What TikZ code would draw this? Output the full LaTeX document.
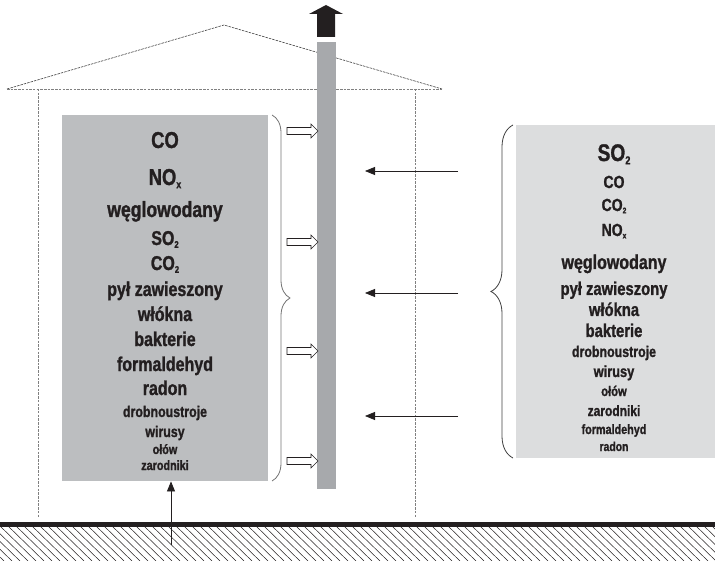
\documentclass[tikz,border=0pt]{standalone}
\usepackage{fontspec}
\setmainfont{Liberation Sans}[FakeStretch=0.8, BoldFeatures={FakeBold=1.2}]
\usepackage{graphicx}
\usetikzlibrary{arrows.meta,decorations.pathreplacing}
\definecolor{boxL}{HTML}{BCBEC0}
\definecolor{boxR}{HTML}{DCDDDE}
\definecolor{chim}{HTML}{A7A9AC}
\definecolor{ink}{HTML}{231F20}
\newcommand\sbs[1]{\raisebox{-0.14em}{\scalebox{0.48}{#1}}}
\tikzset{
  fs/.style={anchor=base, inner sep=0pt, text=ink, font=\fontsize{#1}{#1}\selectfont\bfseries},
  wall/.style={draw=gray, line width=0.6pt, dash pattern=on 2.5pt off 1.2pt},
  roofline/.style={draw=black!75, line width=0.6pt, dash pattern=on 2.5pt off 1pt},
  hollow/.style={draw=ink, fill=white, line width=0.6pt},
  inarrow/.style={draw=ink, line width=0.8pt, -{Triangle[length=10pt,width=8pt]}},
  bracestyle/.style={draw=#1, line width=0.8pt, decorate},
}
\begin{document}
\begin{tikzpicture}[x=1pt,y=-1pt]
\useasboundingbox (0,0) rectangle (715,561);
% house
\coordinate (eaveL) at (7,89);
\coordinate (apex) at (224,25);
\coordinate (eaveR) at (442,89);
\draw[roofline] (eaveL) -- (apex) -- (eaveR);
\draw[wall] (eaveL) -- (eaveR);
\coordinate (wL1) at (38,89); \coordinate (wL2) at (38,518);
\coordinate (wR1) at (415,89); \coordinate (wR2) at (415,518);
\draw[wall] (wL1) -- (wL2);
\draw[wall] (wR1) -- (wR2);
% ground
\begin{scope}
  \clip (0,526) rectangle (715,561);
  \foreach \i in {-6,...,92} {
    \draw[ink, line width=0.5pt] (\i*8,526) -- (\i*8+36,561);
  }
\end{scope}
\coordinate (gL) at (0,524); \coordinate (gR) at (715,524);
\draw[ink, line width=5pt] (gL) -- (gR);
% chimney
\node[fill=chim, inner sep=0pt, minimum width=18.5pt, minimum height=447pt, anchor=north] (chimney) at (326.25,42) {};
\fill[ink] (317,37) -- (317,14) -- (309,14) -- (326,5) -- (343,14) -- (335,14) -- (335,37) -- cycle;
% left box
\node[fill=boxL, inner sep=0pt, minimum width=206pt, minimum height=366pt, anchor=north west] (boxl) at (62,115) {};
\draw[bracestyle=black!55, decoration={brace, amplitude=18pt, aspect=0.5}] (272,115) -- (272,481);
% right box
\node[fill=boxR, inner sep=0pt, minimum width=199pt, minimum height=333pt, anchor=north west] (boxr) at (516,125) {};
\draw[bracestyle=black!75, decoration={brace, amplitude=22pt, aspect=0.5}] (513,458) -- (513,125);
% hollow arrows
\foreach \y in {131,242,351,461} {
  \draw[hollow] (287,\y-3.5) -- (311,\y-3.5) -- (311,\y-7) -- (318,\y) -- (311,\y+7) -- (311,\y+3.5) -- (287,\y+3.5) -- cycle;
}
% incoming arrows
\coordinate (s1) at (458,171); \coordinate (e1) at (365,171);
\coordinate (s2) at (458,293); \coordinate (e2) at (365,293);
\coordinate (s3) at (458,416); \coordinate (e3) at (365,416);
\draw[inarrow] (s1) -- (e1);
\draw[inarrow] (s2) -- (e2);
\draw[inarrow] (s3) -- (e3);
\coordinate (soil) at (171,545);
\draw[inarrow] (soil) -- (boxl.south -| soil);
% left texts
\node[fs=23] (l1) at (165,148) {CO};
\node[fs=23] (l2) at (165,185) {NO\sbs{x}};
\node[fs=22] (l3) at (165,217) {węglowodany};
\node[fs=20] (l4) at (165,245) {SO\sbs{2}};
\node[fs=20] (l5) at (165,270) {CO\sbs{2}};
\node[fs=20] (l6) at (165,296) {pył zawieszony};
\node[fs=20] (l7) at (165,321) {włókna};
\node[fs=20] (l8) at (165,346) {bakterie};
\node[fs=20] (l9) at (165,371) {formaldehyd};
\node[fs=20] (l10) at (165,395) {radon};
\node[fs=15.5] (l11) at (165,417) {drobnoustroje};
\node[fs=15.5] (l12) at (165,437) {wirusy};
\node[fs=13.5] (l13) at (165,454) {ołów};
\node[fs=13.5] (l14) at (165,470) {zarodniki};
% right texts
\node[fs=24] (r1) at (614,161) {SO\sbs{2}};
\node[fs=17.5] (r2) at (614,188) {CO};
\node[fs=17.5] (r3) at (614,211) {CO\sbs{2}};
\node[fs=17.5] (r4) at (614,236) {NO\sbs{x}};
\node[fs=20] (r5) at (614,269) {węglowodany};
\node[fs=18.5] (r6) at (614,295) {pył zawieszony};
\node[fs=18.5] (r7) at (614,316) {włókna};
\node[fs=18.5] (r8) at (614,337) {bakterie};
\node[fs=15.5] (r9) at (614,357) {drobnoustroje};
\node[fs=16] (r10) at (614,377) {wirusy};
\node[fs=14] (r11) at (614,396) {ołów};
\node[fs=15] (r12) at (614,416) {zarodniki};
\node[fs=13.5] (r13) at (614,434) {formaldehyd};
\node[fs=13] (r14) at (614,451) {radon};
\end{tikzpicture}
\end{document}
